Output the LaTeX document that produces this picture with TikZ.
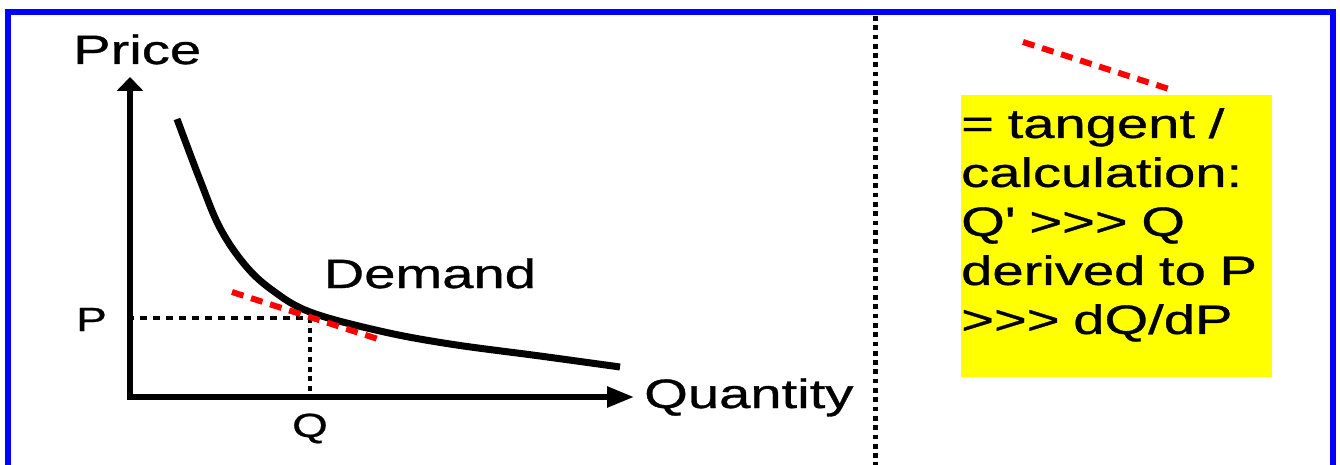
\documentclass[tikz,border=0pt]{standalone}
\usepackage{fontspec}
\setmainfont{Liberation Sans}[FakeStretch=1.37,FakeBold=0.8,Ligatures=TeXOff]
\usetikzlibrary{arrows.meta}
\definecolor{frameblue}{RGB}{0,0,255}
\definecolor{tanred}{RGB}{255,0,0}
\definecolor{noteyellow}{RGB}{255,255,0}
\begin{document}
\begin{tikzpicture}[x=1pt,y=-1pt,
  axis/.style={line width=5.5pt},
  curve/.style={line width=7pt,line cap=butt},
  tangent/.style={draw=tanred,line width=6pt,dash pattern=on 12pt off 8pt},
  guide/.style={line width=4pt,dash pattern=on 7pt off 6pt},
  vguide/.style={line width=4pt,dash pattern=on 5pt off 4.7pt},
  separator/.style={line width=5pt,dash pattern=on 4.7pt off 4.6pt},
  big/.style={inner sep=0pt,font=\fontsize{41}{49}\selectfont},
  small/.style={inner sep=0pt,font=\fontsize{33.5}{40}\selectfont},
  notebox/.style={fill=noteyellow,inner sep=0pt,anchor=north west,minimum width=311pt,minimum height=282pt}
]
\useasboundingbox (0,0) rectangle (1340,465);
\fill[white] (0,0) rectangle (1340,465);
% frame
\draw[frameblue,line width=6pt] (8,485) -- (8,12) -- (1333,12) -- (1333,485);
% separator
\coordinate (septop) at (875,16);
\coordinate (sepbot) at (875,465);
\draw[separator] (septop) -- (sepbot);
% axes
\coordinate (o) at (130,397);
\coordinate (ytip) at (130,77);
\coordinate (xtip) at (634,397);
\draw[axis,-{Triangle[length=14pt,width=26pt]}] ([yshift=2.75pt]o) -- (ytip);
\draw[axis,-{Triangle[length=27pt,width=20pt]}] ([xshift=-2.75pt]o) -- (xtip);
% labels
\node[big,anchor=base west] (price) at (73,64) {Price};
\node[big,anchor=base west] (quantity) at (644,408) {Quantity};
\node[big,anchor=base west] (demand) at (323.5,288) {Demand};
\node[small,anchor=base west] (plabel) at (76,331) {P};
\node[small,anchor=base] (qlabel) at (310,437) {Q};
% point
\coordinate (pt) at (310,318);
\coordinate (pstart) at (127,318);
\coordinate (qfoot) at (310,395);
\draw[guide] (pstart) -- (pt);
\draw[vguide] (pt) -- (qfoot);
% demand curve
\draw[curve] plot[smooth,tension=0.6] coordinates {(177,119) (200,180) (220,228) (245,265) (272,290) (310,312) (380,331) (450,344) (540,356) (620,367)};
% tangent at the point
\coordinate (t1) at (232,292);
\coordinate (t2) at (381,340);
\draw[tangent] (t1) -- (t2);
% legend tangent
\coordinate (l1) at (1023,42);
\coordinate (l2) at (1172,90);
\draw[tangent] (l1) -- (l2);
% note
\node[notebox] (note) at (961,95) {};
\node[big,anchor=north west,align=left,text width=311pt] (notetext) at (961,108)
  {= tangent /\\calculation:\\Q' >>> Q\\derived to P\\>>> dQ/dP};
\end{tikzpicture}
\end{document}
